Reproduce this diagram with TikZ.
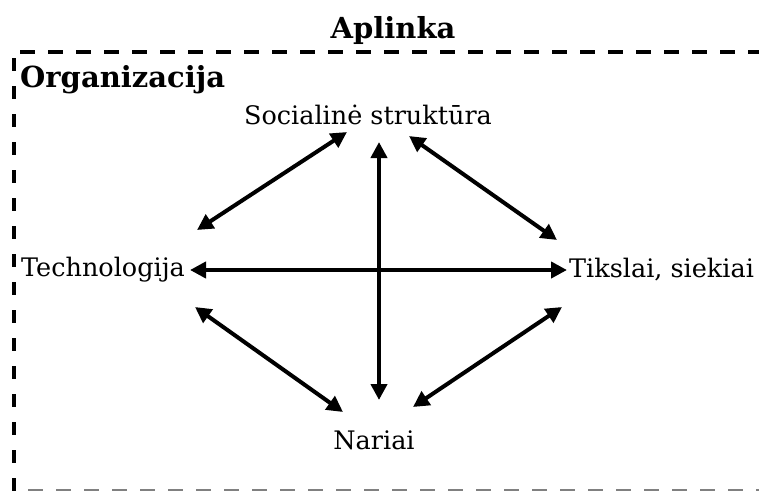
\documentclass[tikz,border=0pt]{standalone}
\usepackage{fontspec}
\setmainfont{DejaVu Serif}
\usetikzlibrary{arrows.meta}
\tikzset{
  lbl/.style={inner sep=0pt, font=\fontsize{25.5}{30}\selectfont},
  ttl/.style={inner sep=0pt, font=\fontsize{29}{34}\selectfont\bfseries},
  dbl/.style={line width=4pt, {Triangle[length=16pt,width=16pt]}-{Triangle[length=16pt,width=16pt]}},
  frame/.style={line width=4pt, dash pattern=on 13pt off 15pt}
}
\begin{document}
\begin{tikzpicture}[x=1pt,y=-1pt]
\useasboundingbox (0,0) rectangle (759,490);
\draw[frame, dash pattern=on 15pt off 13pt] (20,52) -- (770,52);
\draw[frame] (13.5,58) -- (13.5,495);
\draw[frame, draw=gray, line width=3pt, dash pattern=on 15pt off 13pt] (28,490) -- (770,490);
\node[ttl] (apl) at (393,30) {Aplinka};
\node[ttl, anchor=west] (org) at (20,80) {Organizacija};
\node[lbl] (soc) at (368,115) {Socialinė struktūra};
\node[lbl, anchor=west] (tech) at (21,270) {Technologija};
\node[lbl, anchor=west] (tiks) at (569,270) {Tikslai, siekiai};
\node[lbl] (nar) at (374,440) {Nariai};
\coordinate (sT) at (347,132);
\coordinate (sM) at (379,142);
\coordinate (sR) at (409,136);
\coordinate (tU) at (197,230);
\coordinate (tM) at (190,270);
\coordinate (tD) at (195,307);
\coordinate (kU) at (557,240);
\coordinate (kM) at (567,270);
\coordinate (kD) at (562,307);
\coordinate (nL) at (343,412);
\coordinate (nM) at (379,400);
\coordinate (nR) at (413,407);
\draw[dbl] (tU) -- (sT);
\draw[dbl] (sR) -- (kU);
\draw[dbl] (tM) -- (kM);
\draw[dbl] (sM) -- (nM);
\draw[dbl] (tD) -- (nL);
\draw[dbl] (kD) -- (nR);
\end{tikzpicture}
\end{document}
